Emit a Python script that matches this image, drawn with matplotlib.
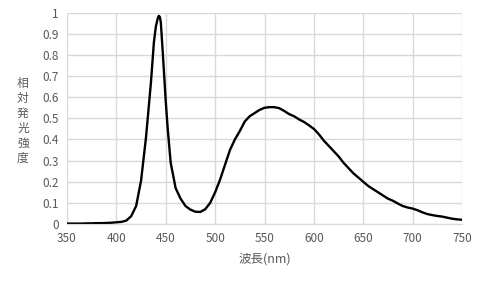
import matplotlib
matplotlib.use('Agg')

import matplotlib.pyplot as plt
import numpy as np

# wavelength (nm) and relative intensity
wavelength = [350, 355, 360, 365, 370, 375, 380, 385, 390, 395,
              400, 405, 410, 415, 420, 425, 430, 435, 438, 440,
              442, 443, 444, 445, 447, 450, 452, 455, 460, 465,
              470, 475, 480, 485, 490, 495, 500, 505, 510, 515,
              520, 525, 530, 535, 540, 545, 550, 555, 560, 565,
              570, 575, 580, 585, 590, 595, 600, 605, 610, 615,
              620, 625, 630, 635, 640, 645, 650, 655, 660, 665,
              670, 675, 680, 685, 690, 695, 700, 705, 710, 715,
              720, 725, 730, 735, 740, 745, 750]
intensity = [0.002, 0.002, 0.002, 0.002, 0.003, 0.003, 0.004, 0.004, 0.005, 0.006,
             0.008, 0.010, 0.016, 0.037, 0.085, 0.205, 0.410, 0.670, 0.860, 0.935,
             0.975, 0.985, 0.980, 0.955, 0.810, 0.580, 0.450, 0.290, 0.170, 0.120,
             0.085, 0.068, 0.058, 0.057, 0.070, 0.100, 0.150, 0.210, 0.280, 0.350,
             0.400, 0.440, 0.485, 0.510, 0.525, 0.540, 0.550, 0.553, 0.553, 0.548,
             0.535, 0.520, 0.510, 0.495, 0.483, 0.467, 0.450, 0.425, 0.395, 0.370,
             0.345, 0.320, 0.290, 0.265, 0.240, 0.220, 0.200, 0.180, 0.165, 0.150,
             0.135, 0.120, 0.110, 0.097, 0.085, 0.078, 0.073, 0.065, 0.055, 0.047,
             0.042, 0.038, 0.035, 0.030, 0.025, 0.022, 0.020]

x_ticks = [350, 400, 450, 500, 550, 600, 650, 700, 750]
y_ticks = [0, 0.1, 0.2, 0.3, 0.4, 0.5, 0.6, 0.7, 0.8, 0.9, 1]
y_tick_labels = ['0', '0.1', '0.2', '0.3', '0.4', '0.5', '0.6', '0.7', '0.8', '0.9', '1']

plt.rcParams['font.family'] = ['Noto Sans CJK JP', 'DejaVu Sans']
grey = '#595959'

fig = plt.figure(figsize=(4.82, 2.89), dpi=100)
ax = fig.add_axes([67 / 482, 65 / 289, 395 / 482, 211.3 / 289])

ax.plot(wavelength, intensity, color='black', linewidth=1.7)

ax.set_xlim(350, 750)
ax.set_ylim(0, 1)
ax.set_xticks(x_ticks)
ax.set_yticks(y_ticks)
ax.set_yticklabels(y_tick_labels)
ax.grid(True, color='#d9d9d9', linewidth=1.0)
ax.set_axisbelow(True)

for side in ['top', 'right', 'left']:
    ax.spines[side].set_visible(False)
ax.spines['bottom'].set_color('#d9d9d9')
ax.tick_params(length=0, labelsize=8.5, colors=grey, pad=6)

ax.set_xlabel('波長(nm)', fontsize=9, color=grey, labelpad=5)
fig.text(23 / 482, 1 - 121 / 289, '\n'.join('相対発光強度'), fontsize=8.5,
         color=grey, ha='center', va='center', linespacing=1.2)

fig.savefig('out.png', dpi=100)
